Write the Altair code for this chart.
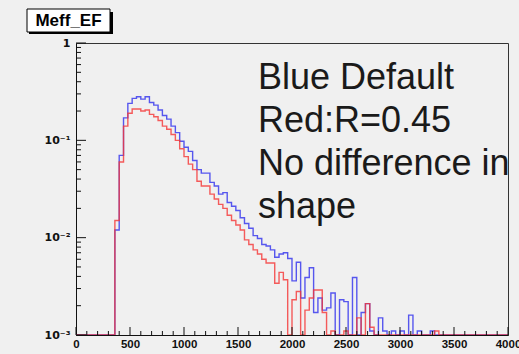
import altair as alt
import pandas as pd

# ---------------- data ----------------
hist_title = "Meff_EF"
annotation_lines = ["Blue Default", "Red:R=0.45", "No difference in", "shape"]

bin_width = 40
first_bin = 360          # lower edge of first filled bin
n_bins = 100             # 0 .. 4000

# normalised bin contents (blue = default, red = R=0.45), from 360 upward
blue_values = [0.012, 0.07, 0.17, 0.24, 0.27, 0.28, 0.265, 0.28, 0.245, 0.23,
               0.205, 0.18, 0.165, 0.14, 0.12, 0.098, 0.085, 0.077, 0.062, 0.05,
               0.046, 0.046, 0.037, 0.034, 0.028, 0.029, 0.023, 0.021, 0.019, 0.016,
               0.014, 0.0125, 0.0105, 0.0098, 0.0085, 0.0082, 0.0075, 0.0063, 0.0068, 0.007,
               0.0061, 0.0036, 0.0056, 0.0024, 0.0039, 0.0049, 0.0017, 0.0024, 0.0018, 0.0019,
               0.0027, 0.0, 0.0023, 0.0022, 0.0, 0.0039, 0.0, 0.0017, 0.0021, 0.0011,
               0.0, 0.0015, 0.0011, 0.0, 0.0011, 0.0, 0.0011, 0.0, 0.0016, 0.0,
               0.0011, 0.0, 0.0, 0.0011]
red_values = [0.015, 0.06, 0.14, 0.19, 0.21, 0.21, 0.20, 0.205, 0.185, 0.175,
              0.16, 0.14, 0.13, 0.115, 0.10, 0.082, 0.068, 0.057, 0.05, 0.038,
              0.034, 0.034, 0.028, 0.025, 0.022, 0.02, 0.017, 0.015, 0.0135, 0.012,
              0.0095, 0.0085, 0.0075, 0.0068, 0.006, 0.0055, 0.0055, 0.0034, 0.0044, 0.0037,
              0.0, 0.0023, 0.0028, 0.0, 0.0018, 0.0024, 0.0029, 0.0029, 0.0017, 0.0,
              0.0011, 0.0, 0.0, 0.0011, 0.0, 0.0, 0.0015, 0.0, 0.0021, 0.0012,
              0.0, 0.0, 0.0, 0.0, 0.0, 0.0, 0.0, 0.0, 0.0, 0.0,
              0.0, 0.0, 0.0, 0.0, 0.0011]

x_ticks = [0, 500, 1000, 1500, 2000, 2500, 3000, 3500, 4000]
x_minor = [v for v in range(0, 4001, 100) if v % 500 != 0]
y_ticks = [0.001, 0.01, 0.1, 1]
y_tick_labels = ["10\u207b\u00b3", "10\u207b\u00b2", "10\u207b\u00b9", "1"]
y_minor = [k * d for d in (0.001, 0.01, 0.1) for k in range(2, 10)]


def step_rows(vals, name):
    full = [0.0] * (first_bin // bin_width) + list(vals)
    full += [0.0] * (n_bins - len(full))
    rows = [{"edge": i * bin_width, "v": v, "s": name} for i, v in enumerate(full)]
    rows.append({"edge": n_bins * bin_width, "v": full[-1], "s": name})
    return pd.DataFrame(rows)


df_blue = step_rows(blue_values, "Default")
df_red = step_rows(red_values, "R=0.45")

# ---------------- chart ----------------
W, H = 432, 292
FONT = "Liberation Sans"

xs = alt.Scale(domain=[0, 4000], nice=False, zero=False)
ys = alt.Scale(type="log", domain=[0.001, 1], nice=False, clamp=True)

label_expr = " : ".join(
    f"abs(log(datum.value)/log(10) - ({i - 3})) < 0.01 ? '{lab}'"
    for i, lab in enumerate(y_tick_labels)
) + " : ''"

x_axis = alt.Axis(values=x_ticks, format="d", ticks=False, grid=False, title=None,
                  domainColor="#111", labelFont=FONT, labelFontWeight="bold",
                  labelFontSize=11.5, labelColor="#111", labelPadding=3, labelFlush=False)
y_axis = alt.Axis(values=y_ticks, labelExpr=label_expr, ticks=False, grid=False,
                  title=None, domainColor="#111", labelFont="DejaVu Sans",
                  labelFontWeight="bold", labelFontSize=11, labelColor="#111",
                  labelPadding=6)


def hist(df, color):
    return alt.Chart(df).transform_calculate(
        y="max(datum.v, 0.001)"
    ).mark_line(interpolate="step-after", color=color, strokeWidth=1.4,
                opacity=0.8, clip=True).encode(
        x=alt.X("edge:Q", scale=xs, axis=x_axis),
        y=alt.Y("y:Q", scale=ys, axis=y_axis),
    )


blue = hist(df_blue, "#3030ee")
red = hist(df_red, "#f53535")

ymaj = alt.Chart(pd.DataFrame({"t": y_ticks})).mark_rule(color="#111").encode(
    y=alt.Y("t:Q", scale=ys, axis=y_axis), x=alt.value(0), x2=alt.value(10))
ymin = alt.Chart(pd.DataFrame({"t": y_minor})).mark_rule(color="#111").encode(
    y=alt.Y("t:Q", scale=ys, axis=y_axis), x=alt.value(0), x2=alt.value(5))
xmaj = alt.Chart(pd.DataFrame({"t": x_ticks})).mark_rule(color="#111").encode(
    x=alt.X("t:Q", scale=xs, axis=x_axis), y=alt.value(H), y2=alt.value(H - 8))
xmin = alt.Chart(pd.DataFrame({"t": x_minor})).mark_rule(color="#111").encode(
    x=alt.X("t:Q", scale=xs, axis=x_axis), y=alt.value(H), y2=alt.value(H - 4))

one = pd.DataFrame({"a": [0]})
shadow = alt.Chart(one).mark_rect(color="black").encode(
    x=alt.value(-47), x2=alt.value(37), y=alt.value(-31), y2=alt.value(-9))
box = alt.Chart(one).mark_rect(fill="white", stroke="black", strokeWidth=1).encode(
    x=alt.value(-49), x2=alt.value(34), y=alt.value(-34), y2=alt.value(-11))
title_txt = alt.Chart(one).mark_text(text=hist_title, font=FONT, fontWeight="bold",
                                     fontSize=17, color="black", align="center",
                                     baseline="middle").encode(
    x=alt.value(-7.5), y=alt.value(-22))

notes = alt.Chart(one).mark_text(text=annotation_lines, font=FONT, fontSize=36,
                                 color="#1a1a1a", align="left", baseline="alphabetic",
                                 lineHeight=43).encode(
    x=alt.value(182), y=alt.value(46))

chart = alt.layer(
    blue, red, ymaj, ymin, xmaj, xmin, shadow, box, title_txt, notes
).properties(
    width=W, height=H,
    autosize=alt.AutoSizeParams(type="none"),
    padding={"left": 76, "top": 43, "right": 11, "bottom": 19},
    background="#f0f0f0",
).configure_view(stroke="#333", strokeWidth=1)

chart.save("out.html", embed_options={"renderer": "svg", "actions": False})
